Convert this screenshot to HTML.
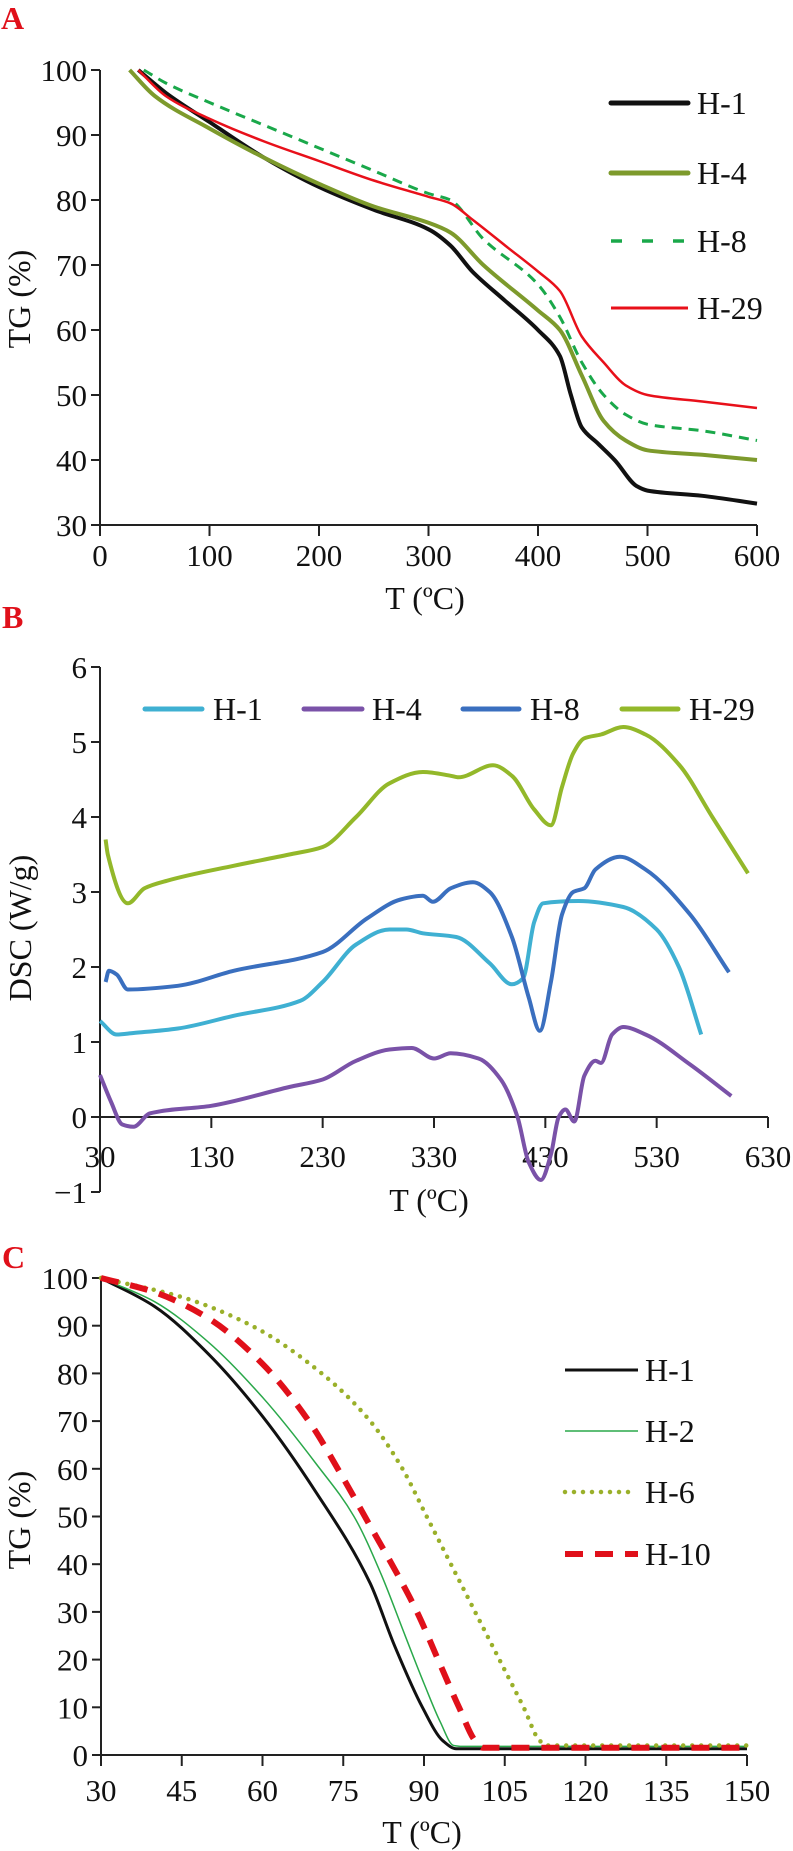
<!DOCTYPE html>
<html><head><meta charset="utf-8"><style>
html,body{margin:0;padding:0;background:#fff}
svg{display:block}
text{font-family:"Liberation Serif",serif;fill:#111}
</style></head><body>
<svg id="fig" width="793" height="1851" viewBox="0 0 793 1851">
<g id="pA"></g>
<g id="pB"></g>
<g id="pC"></g>
</svg>
<script>
// ---------- Panel A data ----------
const aXTicks = [0,100,200,300,400,500,600];
const aYTicks = [30,40,50,60,70,80,90,100];
const aH1T = [35,60,100,150,200,250,300,320,340,370,400,420,430,440,455,470,490,500,550,600];
const aH1V = [100,96.5,92,86.5,82,78.5,75.5,73,69,64.5,60,56,50,45,42.5,40,36,35.3,34.5,33.3];
const aH4T = [27,50,100,150,200,250,300,320,350,400,420,440,460,480,500,550,600];
const aH4V = [100,96,91,86.5,82.5,79,76.5,75,70,63,60,53,46,43,41.5,40.8,40];
const aH8T = [40,60,100,150,200,250,300,320,350,400,420,440,460,480,500,550,600];
const aH8V = [100,98,95,91.5,88,84.5,81,80,74,67,62,55,50,47,45.5,44.5,43];
const aH29T = [35,60,100,150,200,250,300,320,340,370,400,420,440,460,480,500,550,600];
const aH29V = [100,96,92.5,89,86,83,80.5,79.5,77,73,69,66,59,55,51.5,50,49,48];
// ---------- Panel B data ----------
const bXTicks = [30,130,230,330,430,530,630];
const bYTicks = [-1,0,1,2,3,4,5,6];
const bH1T = [30,45,60,100,150,210,230,260,290,305,320,350,380,400,410,420,428,460,500,530,550,570];
const bH1V = [1.28,1.1,1.12,1.18,1.35,1.55,1.8,2.3,2.5,2.5,2.45,2.4,2.05,1.77,1.85,2.6,2.85,2.88,2.8,2.5,2.0,1.1];
const bH4T = [30,40,50,60,75,130,200,230,260,290,310,330,345,370,390,405,415,426,435,442,448,456,465,475,480,490,500,520,560,597];
const bH4V = [0.56,0.2,-0.1,-0.13,0.05,0.15,0.4,0.5,0.75,0.9,0.92,0.78,0.85,0.78,0.5,0.0,-0.6,-0.84,-0.5,0.0,0.1,-0.06,0.55,0.75,0.72,1.1,1.2,1.1,0.7,0.28];
const bH8T = [35,38,45,55,100,150,230,270,300,320,329,345,365,380,400,415,425,435,445,455,465,475,497,520,560,595];
const bH8V = [1.8,1.95,1.9,1.7,1.75,1.95,2.2,2.65,2.9,2.95,2.87,3.05,3.13,3.0,2.4,1.6,1.15,1.8,2.7,3.0,3.05,3.3,3.47,3.3,2.7,1.93];
const bH29T = [35,37,55,70,90,150,200,230,260,290,320,345,352,383,400,420,435,445,455,465,480,500,520,550,580,612];
const bH29V = [3.7,3.5,2.85,3.05,3.15,3.35,3.5,3.6,4.0,4.45,4.6,4.55,4.53,4.69,4.55,4.1,3.89,4.4,4.85,5.05,5.1,5.2,5.1,4.7,4.0,3.25];
// ---------- Panel C data ----------
const cXTicks = [30,45,60,75,90,105,120,135,150];
const cYTicks = [0,10,20,30,40,50,60,70,80,90,100];
const cH1T = [30,40,50,60,70,80,84.5,89.7,93.5,96,150];
const cH1V = [100,94,84,71,55,36,23,10,3,1.3,1.3];
const cH2T = [30,40,50,60,70,77,82,86.5,90,93,95.5,97,150];
const cH2V = [100,95,86.5,75,61,50,38,25,15,7,2,1.8,1.8];
const cH6T = [30,45,58,71,80,86,90.5,95,99.5,104,108.5,111.5,113,150];
const cH6V = [100,96,90,80,70,60,50,40,30,20,10,3,2,2];
const cH10T = [30,40,50,60,68.6,75,80,85,88.7,93,96.5,99.5,101,150];
const cH10V = [100,97,91.5,82,70,58,48,38,30,19,10,3,1.5,1.5];

const NS = "http://www.w3.org/2000/svg";
function mk(parent, tag, attrs){ const e=document.createElementNS(NS,tag); for(const k in attrs) e.setAttribute(k,attrs[k]); parent.appendChild(e); return e; }
function lin(d0,d1,r0,r1){ return v=> r0+(v-d0)*(r1-r0)/(d1-d0); }
// monotone cubic (Fritsch-Carlson) path in data space, mapped to pixels
function pathD(ts,vs,xs,ys){
  const n=ts.length, d=[], m=new Array(n);
  for(let i=0;i<n-1;i++) d.push((vs[i+1]-vs[i])/(ts[i+1]-ts[i]));
  m[0]=d[0]; m[n-1]=d[n-2];
  for(let i=1;i<n-1;i++){
    if(d[i-1]*d[i]<=0) m[i]=0;
    else { const h0=ts[i]-ts[i-1], h1=ts[i+1]-ts[i];
      const w1=2*h1+h0, w2=h1+2*h0;
      m[i]=(w1+w2)/(w1/d[i-1]+w2/d[i]); }
  }
  const f=(t,v)=>xs(t).toFixed(1)+' '+ys(v).toFixed(1);
  let s='M'+f(ts[0],vs[0]);
  for(let i=0;i<n-1;i++){
    const h=ts[i+1]-ts[i];
    s+=' C'+f(ts[i]+h/3, vs[i]+m[i]*h/3)+' '+f(ts[i+1]-h/3, vs[i+1]-m[i+1]*h/3)+' '+f(ts[i+1],vs[i+1]);
  }
  return s;
}

function axes(g, xs, ys, xT, yT, xAxisVal, xLabelY, yAxisTop, yAxisBot, xEnd){
  const ax = mk(g,'line',{x1:xs(xT[0]),y1:yAxisTop,x2:xs(xT[0]),y2:yAxisBot,stroke:'#222','stroke-width':2});
   
  const bx = mk(g,'line',{x1:xs(xT[0]),y1:ys(xAxisVal),x2:xEnd,y2:ys(xAxisVal),stroke:'#222','stroke-width':2});
   
  yT.forEach(v=>{
    const tk=mk(g,'line',{x1:xs(xT[0])-9,y1:ys(v),x2:xs(xT[0]),y2:ys(v),stroke:'#222','stroke-width':2});
     
    const t=mk(g,'text',{x:xs(xT[0])-13,y:ys(v)+11,'text-anchor':'end','font-size':31});
    t.textContent = v<0 ? '\u2212'+Math.abs(v) : v;
     
  });
  xT.forEach(v=>{
    const tk=mk(g,'line',{x1:xs(v),y1:ys(xAxisVal),x2:xs(v),y2:ys(xAxisVal)+11,stroke:'#222','stroke-width':2});
     
    const t=mk(g,'text',{x:xs(v),y:xLabelY+11,'text-anchor':'middle','font-size':31});
    t.textContent=v;
     
  });
}
function series(g, ts, vs, xs, ys, style, name){
  const p = mk(g,'path',Object.assign({d:pathD(ts,vs,xs,ys),fill:'none','stroke-linejoin':'round'},style));
  
  
}
function legend(g, x1, x2, y, tx, label, style, name){
  const l = mk(g,'line',Object.assign({x1:x1,y1:y,x2:x2,y2:y},style));
  
  
  const t = mk(g,'text',{x:tx,y:y+11,'font-size':32}); t.textContent=label;
  
  
}
function title(g,x,y,txt,rot,name){
  const t=mk(g,'text',{x:x,y:y,'text-anchor':'middle','font-size':32});
  if(rot) t.setAttribute('transform','rotate(-90 '+x+' '+y+')');
  t.textContent=txt;
  
  
}
function letter(g,x,y,txt,name){
  const t=mk(g,'text',{x:x,y:y,'font-size':32,'font-weight':'bold'});
  t.style.fill='#e0101a';
  t.textContent=txt;
  
  
}

// ---------- Panel A ----------
(function(){
  const g=document.getElementById('pA');
  const xs=lin(0,600,100,757), ys=lin(30,100,525,70);
  letter(g,1,29,'A','panel-a-letter');
  axes(g,xs,ys,aXTicks,aYTicks,30,555,70,536,757);
  title(g,425,609,'T (ºC)',false,'x-axis-title');
  title(g,30,299,'TG (%)',true,'y-axis-title');
  series(g,aH1T,aH1V,xs,ys,{stroke:'#111','stroke-width':4},'line-h1');
  series(g,aH4T,aH4V,xs,ys,{stroke:'#7d9a2c','stroke-width':4},'line-h4');
  series(g,aH8T,aH8V,xs,ys,{stroke:'#1aa84a','stroke-width':3,'stroke-dasharray':'10 7'},'line-h8');
  series(g,aH29T,aH29V,xs,ys,{stroke:'#e8101a','stroke-width':2.5},'line-h29');
  legend(g,611,688,103,697,'H-1',{stroke:'#111','stroke-width':5,'stroke-linecap':'round'},'legend-h1');
  legend(g,611,688,173,697,'H-4',{stroke:'#7d9a2c','stroke-width':5,'stroke-linecap':'round'},'legend-h4');
  legend(g,611,688,241,697,'H-8',{stroke:'#1aa84a','stroke-width':3.5,'stroke-dasharray':'11 20'},'legend-h8');
  legend(g,611,688,308,697,'H-29',{stroke:'#e8101a','stroke-width':3},'legend-h29');
})();

// ---------- Panel B ----------
(function(){
  const g=document.getElementById('pB');
  const xs=lin(30,630,100,768), ys=lin(-1,6,1192,667);
  letter(g,2,628,'B','panel-b-letter');
  axes(g,xs,ys,bXTicks,bYTicks,0,1156,667,1192,768);
  title(g,429,1211,'T (ºC)',false,'x-axis-title');
  title(g,31,928,'DSC (W/g)',true,'y-axis-title');
  series(g,bH1T,bH1V,xs,ys,{stroke:'#3fb0d2','stroke-width':4},'line-h1');
  series(g,bH4T,bH4V,xs,ys,{stroke:'#7a52a8','stroke-width':4},'line-h4');
  series(g,bH8T,bH8V,xs,ys,{stroke:'#3a6fbf','stroke-width':4},'line-h8');
  series(g,bH29T,bH29V,xs,ys,{stroke:'#93b82a','stroke-width':4},'line-h29');
  legend(g,145,202,709,213,'H-1',{stroke:'#3fb0d2','stroke-width':5,'stroke-linecap':'round'},'legend-h1');
  legend(g,304,362,709,372,'H-4',{stroke:'#7a52a8','stroke-width':5,'stroke-linecap':'round'},'legend-h4');
  legend(g,463,519,709,530,'H-8',{stroke:'#3a6fbf','stroke-width':5,'stroke-linecap':'round'},'legend-h8');
  legend(g,622,678,709,689,'H-29',{stroke:'#93b82a','stroke-width':5,'stroke-linecap':'round'},'legend-h29');
})();

// ---------- Panel C ----------
(function(){
  const g=document.getElementById('pC');
  const xs=lin(30,150,101,747), ys=lin(0,100,1755,1278);
  letter(g,2,1268,'C','panel-c-letter');
  axes(g,xs,ys,cXTicks,cYTicks,0,1790,1278,1755,747);
  title(g,422,1843,'T (ºC)',false,'x-axis-title');
  title(g,30,1520,'TG (%)',true,'y-axis-title');
  series(g,cH1T,cH1V,xs,ys,{stroke:'#111','stroke-width':3},'line-h1');
  series(g,cH2T,cH2V,xs,ys,{stroke:'#2aa84a','stroke-width':1.5},'line-h2');
  series(g,cH6T,cH6V,xs,ys,{stroke:'#9ab02a','stroke-width':4.5,'stroke-dasharray':'0 9','stroke-linecap':'round'},'line-h6');
  series(g,cH10T,cH10V,xs,ys,{stroke:'#e0101a','stroke-width':6,'stroke-dasharray':'18 12'},'line-h10');
  legend(g,565,638,1370,645,'H-1',{stroke:'#111','stroke-width':3},'legend-h1');
  legend(g,565,638,1431,645,'H-2',{stroke:'#2aa84a','stroke-width':1.5},'legend-h2');
  legend(g,565,636,1492,645,'H-6',{stroke:'#9ab02a','stroke-width':4.5,'stroke-dasharray':'0 9','stroke-linecap':'round'},'legend-h6');
  legend(g,565,638,1554,645,'H-10',{stroke:'#e0101a','stroke-width':6,'stroke-dasharray':'18 12'},'legend-h10');
})();
</script>
</body></html>
